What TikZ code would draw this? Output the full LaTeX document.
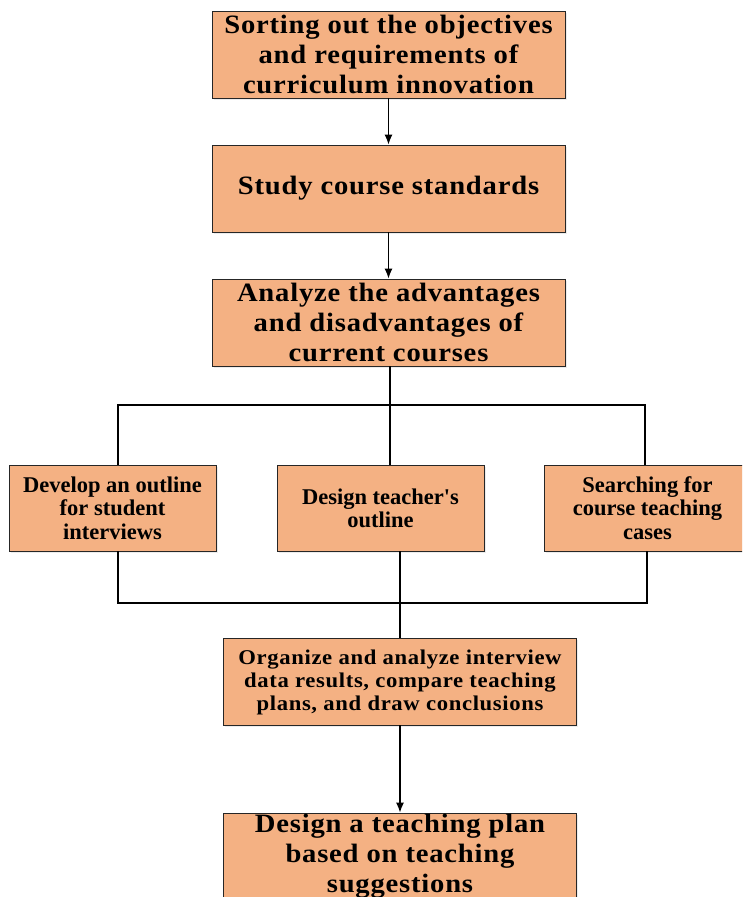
\documentclass[tikz,border=0pt]{standalone}
\usepackage{fontspec}
\setmainfont{Liberation Serif}
\newfontfamily\widefont[LetterSpace=3,FakeStretch=1.08]{Liberation Serif}
\usetikzlibrary{arrows.meta,shadows}
\definecolor{boxfill}{RGB}{244,177,131}

\begin{document}
\begin{tikzpicture}[x=1pt,y=-1pt,>={Latex[length=10pt,width=8pt]},
    stage/.style={draw=black!85,fill=boxfill,line width=0.9pt,align=center,
      minimum width=353pt,minimum height=87pt,inner sep=0pt,
      drop shadow={opacity=0.15,shadow xshift=1.5pt,shadow yshift=-1.5pt},
      font=\widefont\bfseries\fontsize{26.5}{30}\selectfont},
    task/.style={stage,minimum width=207pt,minimum height=86pt,
      font=\bfseries\fontsize{22.5}{23.3}\selectfont},
    link/.style={line width=1.2pt}]
    \useasboundingbox (0,0) rectangle (742,897);
    \clip (0,0) rectangle (742,897);
    % main steps
    \node[stage] (goals) at (388.5,54.5) {Sorting out the objectives\\and requirements of\\curriculum innovation};
    \node[stage] (standards) at (388.5,188.5) {Study course standards};
    \node[stage] (analyze) at (388.5,322.5) {Analyze the advantages\\and disadvantages of\\current courses};
    % parallel tasks
    \node[task] (student) at (112.5,508) {Develop an outline\\for student\\interviews};
    \node[task] (teacher) at (380.5,508) {Design teacher\textquotesingle s\\outline};
    \node[task] (cases)   at (647.5,508) {Searching for\\course teaching\\cases};
    \node[stage,minimum height=87pt,text depth=3pt,
      font=\widefont\bfseries\fontsize{21}{23}\selectfont] (results) at (400,681.5)
      {Organize and analyze interview\\data results, compare teaching\\plans, and draw conclusions};
    \node[stage] (plan) at (400,856.5) {Design a teaching plan\\based on teaching\\suggestions};
    % junctions
    \coordinate (splitL) at (118,405);
    \coordinate (splitC) at (390,405);
    \coordinate (splitR) at (645,405);
    \coordinate (joinL) at (118,603);
    \coordinate (joinC) at (400,603);
    \coordinate (joinR) at (647,603);
    \draw[link,->] (goals) -- (standards);
    \draw[link,->] (standards) -- (analyze);
    \draw[link] (analyze.south -| splitC) -- (teacher.north -| splitC);
    \draw[link] (student.north -| splitL) -- (splitL) -- (splitR) -- (cases.north -| splitR);
    \draw[link] (student.south -| joinL) -- (joinL) -- (joinR) -- (cases.south -| joinR);
    \draw[link] (teacher.south -| joinC) -- (results.north -| joinC);
    \draw[link,->] (results) -- (plan);
\end{tikzpicture}
\end{document}
